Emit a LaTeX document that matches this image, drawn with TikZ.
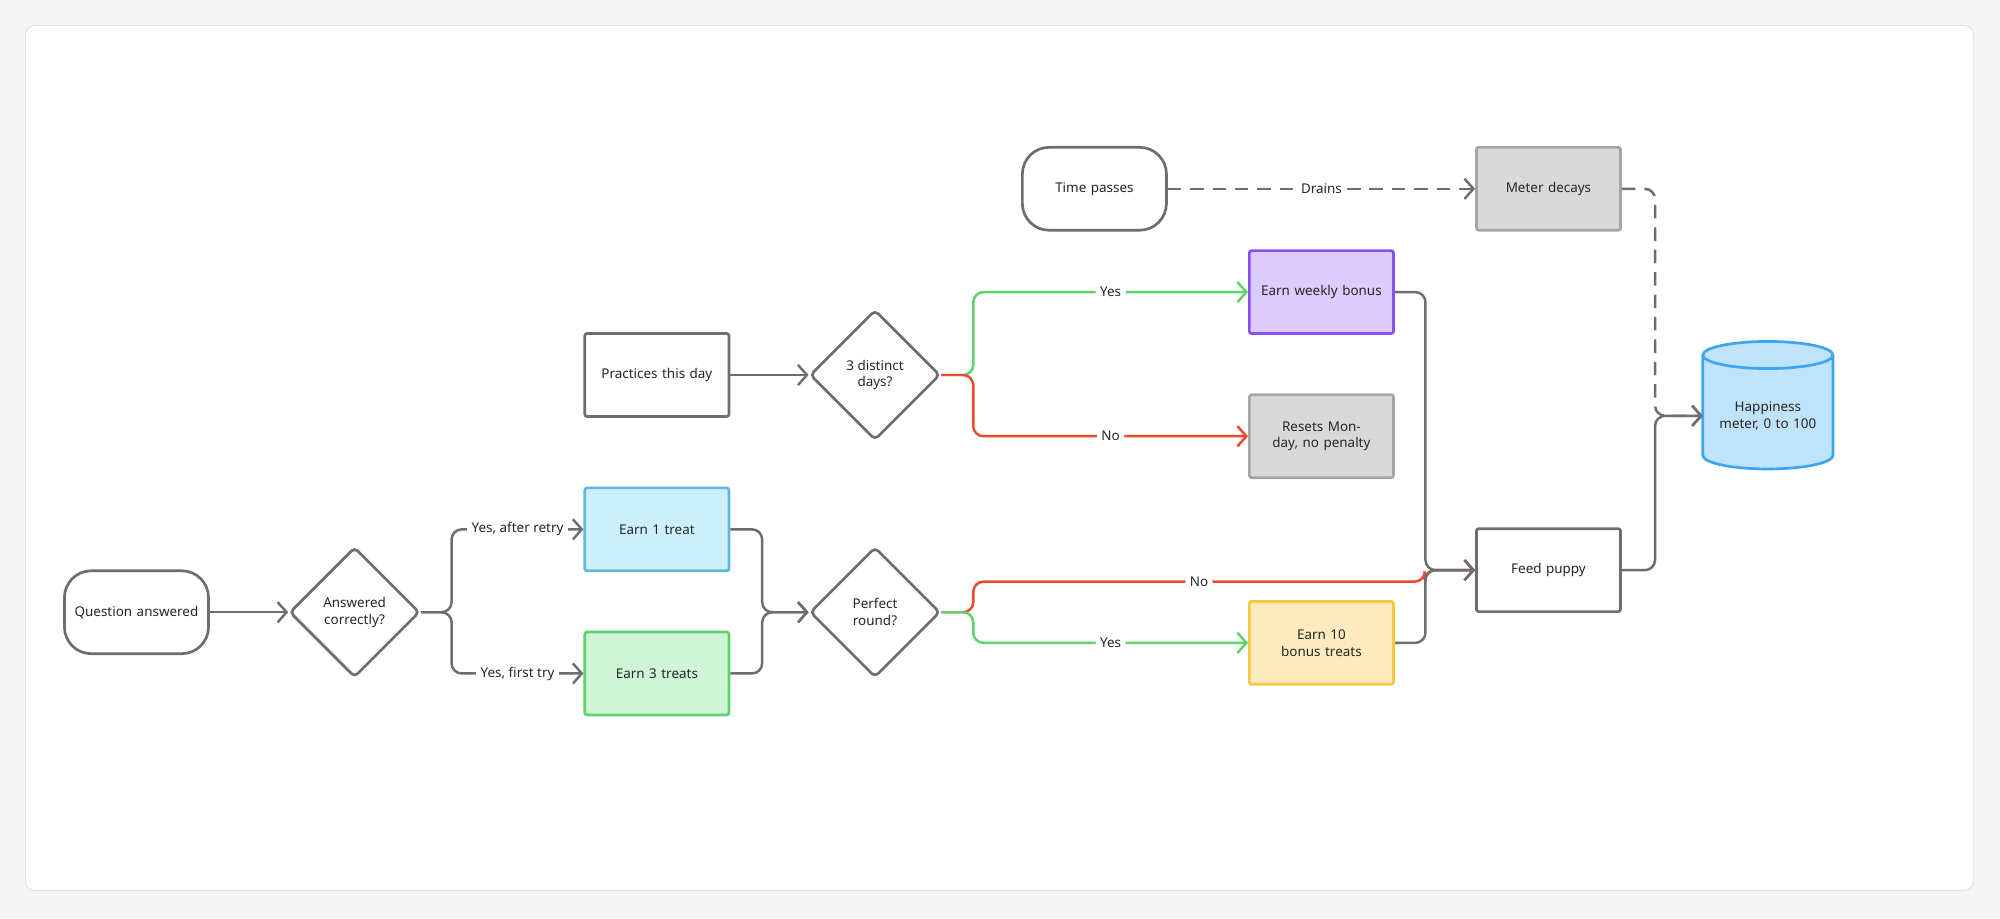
\documentclass[tikz,border=0pt]{standalone}
\usepackage{fontspec}
\setmainfont{Noto Sans}
\usetikzlibrary{shapes.geometric,arrows.meta}
\definecolor{ln}{HTML}{6E6E6E}
\definecolor{gr}{HTML}{5DD36B}
\definecolor{rd}{HTML}{EC4A2C}
\tikzstyle{every node}=[font=\fontsize{6}{7.5}\selectfont,text=black!85]
\tikzstyle{bx}=[rectangle,draw=ln,line width=1.2pt,minimum width=2.26cm,minimum height=1.3cm,align=center,text width=2cm,rounded corners=1pt]
\tikzstyle{term}=[bx,rounded corners=0.42cm]
\tikzstyle{dec}=[diamond,draw=ln,line width=1.2pt,minimum width=2.04cm,minimum height=2.04cm,align=center,inner sep=0pt,rounded corners=2pt]
\tikzstyle{ar}=[draw=ln,line width=1.1pt,rounded corners=0.16cm,-{Straight Barb[length=4pt,width=9pt]}]
\tikzstyle{lbl}=[fill=white,inner sep=2pt]
\begin{document}
\begin{tikzpicture}[x=0.02cm,y=-0.02cm]
\fill[black!4] (0,0) rectangle (1568,720);
\filldraw[fill=white,draw=black!12,rounded corners=4pt] (20,20) rectangle (1547,698);
% nodes
\node[term] (qa) at (107,480) {Question answered};
\node[dec] (ac) at (278,480) {Answered\\correctly?};
\node[bx,fill=cyan!20!white,draw=cyan!60!teal!70] (e1) at (515,415) {Earn 1 treat};
\node[bx,fill={rgb,255:red,205;green,245;blue,214},draw=gr] (e3) at (515,528) {Earn 3 treats};
\node[bx] (pd) at (515,294) {Practices this day};
\node[dec] (td) at (686,294) {3 distinct\\days?};
\node[dec] (pr) at (686,480) {Perfect\\round?};
\node[term] (tp) at (858,148) {Time passes};
\node[bx,fill=black!15,draw=black!35] (md) at (1214,148) {Meter decays};
\node[bx,fill={rgb,255:red,220;green,203;blue,251},draw={rgb,255:red,138;green,79;blue,240}] (wb) at (1036,229) {Earn weekly bonus};
\node[bx,fill=black!15,draw=black!35] (rm) at (1036,342) {Resets Monday, no penalty};
\node[bx,fill={rgb,255:red,253;green,235;blue,191},draw={rgb,255:red,245;green,200;blue,66}] (tb) at (1036,504) {Earn 10 bonus treats};
\node[bx] (fp) at (1214,447) {Feed puppy};
\node[cylinder,shape border rotate=90,aspect=0.22,draw={rgb,255:red,58;green,167;blue,240},fill={rgb,255:red,191;green,227;blue,251},line width=1.2pt,minimum width=2.04cm,minimum height=2cm,align=center,text width=1.7cm] (hm) at (1386,326) {Happiness meter, 0 to 100};
\coordinate (hmin) at (1335,326);
\coordinate (nj) at (1117,456);
% connectors
\draw[ar] (qa) -- (ac);
\draw[ar] (ac.east) -- ++(24,0) |- node[lbl,pos=0.75]{Yes, after retry} (e1.west);
\draw[ar] (ac.east) -- ++(24,0) |- node[lbl,pos=0.75]{Yes, first try} (e3.west);
\draw[ar] (e1.east) -- ++(25,0) |- (pr.west);
\draw[ar] (e3.east) -- ++(25,0) |- (pr.west);
\draw[ar] (pd) -- (td);
\draw[ar,draw=gr] (td.east) -- ++(25,0) |- node[lbl,pos=0.75]{Yes} (wb.west);
\draw[ar,draw=rd] (td.east) -- ++(25,0) |- node[lbl,pos=0.75]{No} (rm.west);
\draw[ar,draw=rd] (pr.east) -- ++(25,0) |- node[lbl,pos=0.75]{No} (nj) |- (fp.west);
\draw[ar,draw=gr] (pr.east) -- ++(25,0) |- node[lbl,pos=0.75]{Yes} (tb.west);
\draw[ar] (wb.east) -- ++(24,0) |- (fp.west);
\draw[ar] (tb.east) -- ++(24,0) |- (fp.west);
\draw[ar,dash pattern=on 6pt off 4pt] (tp) -- node[lbl]{Drains} (md);
\draw[ar,dash pattern=on 6pt off 4pt] (md.east) -- ++(26,0) |- (hmin);
\draw[ar] (fp.east) -- ++(26,0) |- (hmin);
\end{tikzpicture}
\end{document}
